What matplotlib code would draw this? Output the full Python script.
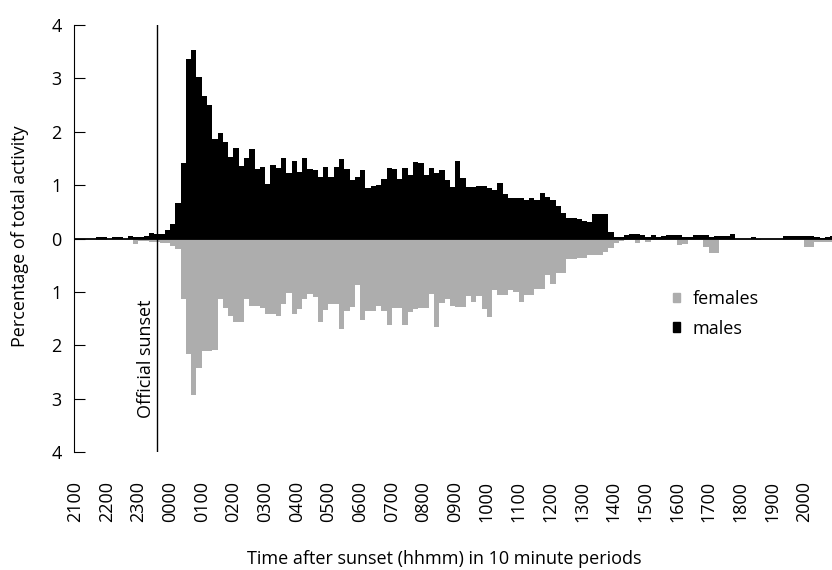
import numpy as np
import matplotlib
matplotlib.use('Agg')
import matplotlib.pyplot as plt
from matplotlib.patches import Patch

plt.rcParams['font.family'] = ['Open Sans', 'DejaVu Sans']

# percentage of total activity per 10 minute period, 2100 -> 2050 (144 periods)
males = [
    0, 0, 0, 0, 0.02, 0.02,
    0, 0.02, 0.02, 0, 0.05, 0.03,
    0.03, 0.05, 0.10, 0.09, 0.09, 0.15,
    0.27, 0.67, 1.42, 3.37, 3.53, 3.02,
    2.67, 2.51, 1.87, 1.98, 1.81, 1.53,
    1.70, 1.36, 1.50, 1.67, 1.31, 1.34,
    1.02, 1.37, 1.33, 1.51, 1.23, 1.46,
    1.25, 1.51, 1.31, 1.28, 1.16, 1.34,
    1.16, 1.34, 1.49, 1.31, 1.09, 1.16,
    1.28, 0.94, 0.98, 1.01, 1.11, 1.33,
    1.31, 1.11, 1.33, 1.19, 1.43, 1.41,
    1.19, 1.33, 1.23, 1.28, 1.09, 0.96,
    1.46, 1.13, 0.96, 0.96, 0.99, 0.99,
    0.94, 0.91, 1.04, 0.83, 0.75, 0.75,
    0.75, 0.73, 0.75, 0.73, 0.86, 0.78,
    0.72, 0.61, 0.48, 0.38, 0.39, 0.36,
    0.33, 0.30, 0.45, 0.45, 0.45, 0.12,
    0.03, 0.03, 0.07, 0.09, 0.08, 0.07,
    0.03, 0.07, 0.03, 0.05, 0.07, 0.07,
    0.06, 0.02, 0.02, 0.07, 0.07, 0.07,
    0.02, 0.05, 0.05, 0.05, 0.08, 0,
    0, 0, 0.03, 0, 0, 0,
    0, 0, 0.04, 0.04, 0.04, 0.04,
    0.04, 0.04, 0.02, 0.01, 0.02, 0.04,
]
females = [
    0, 0, 0, 0, 0.02, 0.02,
    0, 0, 0, 0, 0, 0.10,
    0.05, 0.05, 0.06, 0.07, 0.09, 0.09,
    0.14, 0.19, 1.14, 2.17, 2.93, 2.43,
    2.11, 2.11, 2.08, 1.13, 1.31, 1.46,
    1.56, 1.56, 1.14, 1.27, 1.27, 1.31,
    1.42, 1.42, 1.46, 1.22, 1.03, 1.42,
    1.33, 1.13, 1.04, 1.09, 1.56, 1.34,
    1.23, 1.23, 1.70, 1.36, 1.28, 0.88,
    1.52, 1.36, 1.36, 1.27, 1.36, 1.62,
    1.31, 1.31, 1.62, 1.37, 1.33, 1.31,
    1.31, 1.04, 1.66, 1.21, 1.13, 1.27,
    1.28, 1.28, 1.08, 1.19, 1.08, 1.33,
    1.48, 0.96, 1.05, 1.05, 0.97, 1.00,
    1.19, 1.06, 1.06, 0.95, 0.95, 0.69,
    0.86, 0.64, 0.64, 0.39, 0.39, 0.37,
    0.36, 0.30, 0.30, 0.30, 0.25, 0.18,
    0.08, 0.04, 0.03, 0.03, 0.075, 0.03,
    0.06, 0.03, 0.02, 0.02, 0.02, 0.02,
    0.12, 0.10, 0.03, 0.02, 0.02, 0.16,
    0.27, 0.27, 0.03, 0.03, 0.03, 0,
    0, 0, 0, 0.03, 0, 0,
    0, 0, 0.02, 0.02, 0.02, 0.02,
    0.16, 0.16, 0.06, 0.06, 0.06, 0.06,
]
hour_labels = ['2100', '2200', '2300', '0000', '0100', '0200', '0300', '0400',
               '0500', '0600', '0700', '0800', '0900', '1000', '1100', '1200',
               '1300', '1400', '1500', '1600', '1700', '1800', '1900', '2000']
sunset_period = 15.5

fs = 13
grey = '#adadad'

fig = plt.figure(figsize=(8.32, 5.70), dpi=100)
ax = fig.add_axes([74/832, 118/570, 758/832, 427/570])

x = np.arange(len(males))
ax.bar(x, males, width=1, align='edge', color='black', linewidth=0)
ax.bar(x, -np.array(females), width=1, align='edge', color=grey, linewidth=0)
ax.axhline(0, color='black', lw=1.3)
ax.plot([sunset_period, sunset_period], [-4, 4], color='black', lw=1)
ax.text(sunset_period - 0.3, -3.37, 'Official sunset', rotation=90,
        ha='right', va='bottom', fontsize=fs)

ax.set_xlim(-0.2, 758/5.28 - 0.2)
ax.set_ylim(-4, 4)
ax.set_yticks(range(-4, 5))
ax.set_yticklabels([str(abs(v)) for v in range(-4, 5)], fontsize=fs)
ax.tick_params(axis='y', direction='in', length=8, width=0.8, pad=9)
ax.set_xticks(np.arange(len(hour_labels)) * 6)
ax.set_xticklabels(hour_labels, rotation=90, fontsize=fs)
ax.tick_params(axis='x', length=0, pad=21)
for s in ['top', 'right', 'bottom']:
    ax.spines[s].set_visible(False)
ax.spines['left'].set_linewidth(0.8)

fig.text(444/832, (570-559)/570, 'Time after sunset (hhmm) in 10 minute periods',
         ha='center', va='center', fontsize=fs)
fig.text(20/832, (570-236)/570, 'Percentage of total activity', rotation=90,
         ha='center', va='center', fontsize=fs)

handles = [Patch(color=grey), Patch(color='black')]
ax.legend(handles, ['females', 'males'], frameon=False, fontsize=fs,
          loc='upper left', bbox_to_anchor=(673/832, (570-290)/570),
          bbox_transform=fig.transFigure, borderpad=0, borderaxespad=0,
          handlelength=0.4, handleheight=0.45, handletextpad=0.7,
          labelspacing=0.65)

fig.savefig('out.png', dpi=100)
